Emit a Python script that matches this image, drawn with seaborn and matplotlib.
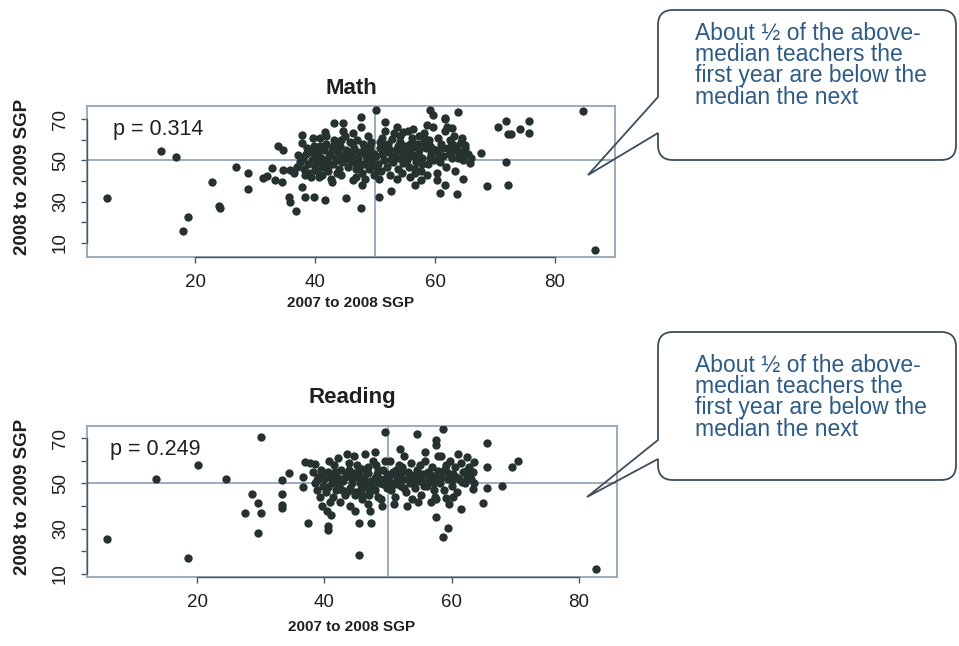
import matplotlib
matplotlib.use("Agg")
import matplotlib.pyplot as plt
from matplotlib.path import Path
from matplotlib.patches import PathPatch
from matplotlib.transforms import Affine2D
import seaborn as sns
import pandas as pd

# ---------------- data ----------------
math_points = [
    # sparse low end
    (5.3, 31.8), (14.3, 54.5), (16.8, 51.6), (18.0, 16.0), (18.8, 22.7),
    (22.8, 39.6), (24.0, 28.0), (24.2, 27.0), (26.8, 46.8), (28.8, 43.9),
    (28.8, 36.2), (31.3, 41.5), (32.0, 42.5), (32.8, 46.3), (33.3, 40.5),
    (33.8, 57.0), (34.7, 55.0), (34.5, 39.6), (34.7, 45.4), (35.8, 45.4),
    (35.7, 32.3), (35.8, 29.9), (36.8, 25.6), (37.8, 62.3), (37.8, 58.4),
    (37.8, 37.2), (38.3, 32.3), (39.8, 32.3), (40.7, 42.0), (41.7, 30.9),
    (42.8, 39.6), (45.2, 31.8), (43.2, 68.0), (44.7, 68.0), (39.7, 60.8),
    (40.8, 60.8), (41.7, 63.7),
    # upper / right part of the cloud
    (50.2, 74.3), (47.7, 71.0), (51.7, 68.6), (53.7, 66.0), (54.7, 63.7),
    (56.3, 65.0), (59.2, 74.3), (59.7, 72.0), (61.7, 70.5), (58.7, 67.0),
    (47.7, 27.0), (50.7, 32.3), (52.7, 35.2), (55.8, 42.0), (56.7, 45.8),
    (56.7, 38.0), (57.7, 40.5), (60.3, 40.5), (60.8, 34.0), (47.8, 38.0),
    (46.3, 40.5), (63.8, 73.4), (61.7, 70.0), (62.8, 65.6), (65.0, 57.4),
    (67.7, 53.6), (71.8, 49.2), (68.7, 37.6), (72.2, 38.0), (70.5, 66.0),
    (71.8, 69.0), (72.2, 62.8), (72.6, 62.6), (74.2, 65.0), (75.7, 69.0),
    (75.7, 63.2), (61.7, 38.0), (63.7, 33.8), (64.7, 41.0), (65.8, 48.7),
    (84.7, 73.9), (86.7, 6.7),
    # dense centre
    (36.5, 44), (37.0, 47), (37.5, 49), (38.0, 51), (38.2, 46), (38.5, 53),
    (38.8, 48), (39.0, 55), (39.2, 44), (39.5, 50), (39.8, 57), (40.0, 47),
    (40.2, 52), (40.5, 54), (40.7, 49), (39.3, 42), (37.8, 50.5), (38.6, 56),
    (40.3, 45), (41.0, 51), (41.3, 47), (41.5, 55), (41.8, 58), (42.0, 50),
    (42.2, 45), (42.5, 53), (42.8, 56), (43.0, 48), (43.2, 60), (43.5, 51),
    (43.8, 54), (44.0, 46), (44.2, 57), (44.5, 49), (44.8, 52), (45.0, 62),
    (45.2, 55), (45.5, 47), (45.8, 59), (41.2, 43), (42.6, 41), (43.6, 44),
    (44.6, 64), (45.3, 50.5), (41.9, 62), (42.3, 52), (43.1, 57.5), (44.3, 43),
    (46.0, 53), (46.2, 49), (46.5, 56), (46.8, 46), (47.0, 60), (47.2, 51),
    (47.5, 54), (47.8, 44), (48.0, 58), (48.2, 48), (48.5, 52), (48.8, 62),
    (49.0, 46), (49.2, 55), (49.5, 50), (49.8, 43), (46.4, 63), (47.6, 66),
    (48.4, 41), (49.4, 59), (46.9, 42), (48.9, 53.5), (47.1, 48.5), (45.9, 51),
    (49.7, 47.5), (50.2, 52), (50.5, 48), (50.8, 56), (51.0, 45), (51.2, 61),
    (51.5, 50), (51.8, 54), (52.0, 47), (52.2, 58), (52.5, 43), (52.8, 52),
    (53.0, 49), (53.2, 63), (53.5, 55), (53.8, 46), (54.0, 51), (54.2, 59),
    (54.5, 44), (54.8, 53), (55.0, 57), (50.6, 41), (51.6, 64), (52.4, 55.5),
    (53.6, 41), (54.6, 48.5), (50.9, 59), (52.9, 60.5), (54.1, 62),
    (55.3, 50), (55.6, 47), (55.9, 54), (56.2, 61), (56.5, 52), (56.8, 49),
    (57.0, 58), (57.3, 55), (57.6, 45), (57.9, 51), (58.2, 63), (58.5, 56),
    (58.8, 48), (59.0, 60), (59.3, 53), (59.6, 66), (59.9, 50), (55.5, 64),
    (56.7, 44), (58.0, 58.5), (59.2, 57), (57.4, 62), (58.7, 43), (56.0, 52.5),
    (60.2, 55), (60.5, 61), (60.8, 49), (61.0, 58), (61.3, 52), (61.6, 64),
    (61.9, 47), (62.2, 56), (62.5, 60), (62.8, 51), (63.1, 62), (63.4, 45),
    (63.7, 57), (64.0, 54), (64.3, 59), (64.7, 50), (65.0, 56), (65.5, 53),
    (66.0, 51), (60.4, 44), (62.0, 66), (63.0, 54.5), (64.5, 61),
    (37.2, 52.5), (38.4, 43), (39.6, 53.5), (40.9, 57), (41.6, 49.5),
    (42.4, 47.5), (43.3, 55.5), (43.9, 50), (44.4, 60), (45.6, 53),
    (46.1, 58.5), (46.7, 51), (47.4, 47), (48.1, 55), (48.7, 49.5),
    (49.1, 57), (49.9, 53), (50.4, 45), (51.1, 53), (51.9, 57.5),
    (52.6, 50), (53.3, 52.5), (53.9, 57), (54.4, 55), (55.2, 53),
    (55.8, 58), (56.4, 56.5), (57.1, 53), (57.8, 48), (58.4, 60.5),
    (59.1, 51), (59.7, 55.5), (60.6, 52.5), (61.4, 56), (62.3, 53),
    (62.9, 58), (63.9, 51), (64.9, 53), (44.0, 52.5), (46.3, 54.5),
]

reading_points = [
    # sparse low end
    (5.8, 25.5), (13.5, 52.0), (18.5, 17.1), (20.1, 58.1), (24.6, 52.0),
    (30.0, 70.4), (28.6, 45.3), (27.6, 37.0), (29.5, 41.4), (30.1, 37.0),
    (29.5, 28.2), (33.4, 51.5), (33.4, 45.3), (33.4, 40.5), (33.4, 39.0),
    (34.5, 54.6), (36.6, 52.8), (36.6, 48.4), (36.9, 59.4), (37.7, 59.0),
    (38.5, 58.5), (37.4, 32.6), (40.5, 31.2), (40.5, 29.5), (45.5, 18.5),
    # upper / right part of the cloud
    (49.5, 72.6), (54.5, 71.8), (58.6, 74.0), (57.5, 69.0), (57.5, 67.0),
    (45.5, 32.6), (47.4, 32.6), (57.5, 35.2), (59.5, 30.4), (58.6, 26.4),
    (57.6, 43.1), (59.2, 43.6), (65.6, 67.8), (65.6, 57.2), (63.4, 47.5),
    (65.6, 48.0), (68.0, 48.9), (69.5, 57.2), (70.5, 59.9), (65.0, 41.4),
    (61.5, 38.7), (62.5, 61.6), (63.6, 59.4), (82.7, 12.3),
    # dense centre
    (38.5, 50), (38.8, 47), (39.0, 53), (39.3, 44), (39.5, 56), (39.8, 49),
    (40.0, 52), (40.3, 46), (40.6, 55), (40.9, 42), (41.2, 50), (41.5, 58),
    (41.8, 47), (42.0, 53), (38.2, 55), (39.6, 40), (40.8, 60), (41.4, 44),
    (41.0, 36), (40.4, 38), (42.3, 49), (42.6, 56), (42.9, 51), (43.2, 45),
    (43.5, 54), (43.8, 59), (44.1, 48), (44.4, 52), (44.7, 62), (45.0, 46),
    (45.3, 55), (45.6, 50), (45.9, 43), (42.5, 42), (43.6, 63), (44.0, 40),
    (45.2, 58), (43.0, 52), (44.6, 54.5), (45.8, 47.5), (42.1, 61), (44.9, 38),
    (46.2, 53), (46.5, 49), (46.8, 57), (47.1, 45), (47.4, 51), (47.7, 60),
    (48.0, 47), (48.3, 54), (48.6, 50), (48.9, 43), (49.2, 56), (49.5, 52),
    (49.8, 48), (46.4, 63), (47.9, 64), (49.0, 40), (46.9, 41), (48.1, 58),
    (49.6, 60), (47.2, 38), (46.0, 45), (48.5, 44), (50.2, 51), (50.5, 47),
    (50.8, 55), (51.1, 44), (51.4, 53), (51.7, 58), (52.0, 49), (52.3, 52),
    (52.6, 62), (52.9, 46), (53.2, 55), (53.5, 50), (53.8, 43), (50.4, 60),
    (51.9, 65), (53.0, 40), (50.9, 41), (52.2, 57), (53.7, 59), (54.0, 53),
    (51.3, 49.5), (54.3, 48), (54.6, 56), (54.9, 51), (55.2, 45), (55.5, 54),
    (55.8, 60), (56.1, 49), (56.4, 52), (56.7, 42), (57.0, 57), (57.3, 47),
    (57.6, 53), (57.9, 62), (54.8, 42), (55.9, 64), (56.9, 51), (57.4, 44),
    (55.1, 58), (58.2, 50), (58.5, 55), (58.8, 47), (59.1, 58), (59.4, 52),
    (59.7, 60), (60.0, 49), (60.3, 54), (60.6, 57), (60.9, 46), (61.2, 52),
    (61.5, 59), (61.8, 55), (62.1, 50), (62.4, 53), (62.7, 57), (63.0, 52),
    (63.3, 55), (63.6, 50), (58.3, 62), (60.2, 44), (61.0, 63), (59.6, 41),
    (38.9, 51.5), (39.9, 54.5), (40.5, 48.5), (41.1, 52.5), (41.7, 55),
    (42.2, 50.5), (42.8, 47), (43.3, 53), (43.9, 56), (44.3, 50),
    (44.8, 45), (45.4, 52.5), (45.9, 56.5), (46.3, 51), (46.9, 54.5),
    (47.5, 49), (47.9, 52.5), (48.4, 56), (48.8, 52), (49.3, 49.5),
    (49.9, 54), (50.3, 53.5), (50.7, 50), (51.2, 56), (51.6, 51.5),
    (52.1, 54.5), (52.5, 48), (53.1, 52), (53.6, 53.5), (54.2, 50.5),
    (54.7, 53.5), (55.3, 51), (55.7, 49), (56.3, 55), (56.8, 53.5),
    (57.2, 50), (57.8, 55.5), (58.4, 52.5), (58.9, 56.5), (59.5, 54.5),
    (60.1, 51.5), (60.7, 53), (61.6, 50.5), (62.3, 55.5), (43.7, 46.5),
    (47.0, 46.5),
]

panel_titles = ["Math", "Reading"]
p_labels = ["p = 0.314", "p = 0.249"]
medians = [50, 50]
x_ticks = [20, 40, 60, 80]
y_ticks = [10, 20, 30, 40, 50, 60, 70]
y_tick_labels = ["10", "", "30", "", "50", "", "70"]
x_label = "2007 to 2008 SGP"
y_label = "2008 to 2009 SGP"
callout_text = ("About \u00bd of the above-\nmedian teachers the\n"
                "first year are below the\nmedian the next")

# ---------------- style ----------------
sns.set_style("white")
plt.rcParams["font.family"] = ["Liberation Sans", "DejaVu Sans"]

W, H = 959, 646
fig = plt.figure(figsize=(W / 100, H / 100), dpi=100)
px = Affine2D().scale(1 / W, -1 / H).translate(0, 1) + fig.transFigure

dot_color = "#253230"
frame_color = "#93a7b8"
axis_color = "#4b5560"
text_color = "#1f1f1f"

# axes rectangles in pixels: left, top, right, bottom
panels = [
    dict(rect=(87, 106, 615, 257), xlim=(2.0, 90.0), ylim=(3.2, 76.3),
         title_y=88, xlabel_y=303),
    dict(rect=(87, 426, 617, 577), xlim=(2.7, 86.0), ylim=(8.7, 75.3),
         title_y=397, xlabel_y=627),
]
datasets = [math_points, reading_points]

for i, (pan, pts) in enumerate(zip(panels, datasets)):
    l, t, r, b = pan["rect"]
    ax = fig.add_axes([l / W, 1 - b / H, (r - l) / W, (b - t) / H])
    df = pd.DataFrame(pts, columns=["prev", "next"])
    sns.scatterplot(data=df, x="prev", y="next", ax=ax, color=dot_color,
                    s=36, linewidth=0, zorder=3)
    ax.set_xlim(*pan["xlim"])
    ax.set_ylim(*pan["ylim"])
    ax.axhline(medians[i], color=frame_color, lw=1.3, zorder=2)
    ax.axvline(medians[i], color=frame_color, lw=1.3, zorder=2)
    for sp in ax.spines.values():
        sp.set_visible(True)
        sp.set_color(frame_color)
        sp.set_linewidth(1.3)
    # R-style axis lines spanning the tick range
    ax.plot([x_ticks[0], x_ticks[-1]], [pan["ylim"][0]] * 2, color=axis_color,
            lw=1.0, clip_on=False, zorder=4)
    ax.plot([pan["xlim"][0]] * 2, [y_ticks[0], y_ticks[-1]], color=axis_color,
            lw=1.0, clip_on=False, zorder=4)
    ax.set_xticks(x_ticks)
    ax.set_yticks(y_ticks)
    ax.set_yticklabels(y_tick_labels)
    ax.tick_params(axis="both", which="major", direction="out", length=4,
                   width=1.0, color=axis_color, labelsize=13.5,
                   labelcolor=text_color, bottom=True, left=True)
    ax.tick_params(axis="x", pad=8)
    ax.tick_params(axis="y", pad=9)
    for lab in ax.get_yticklabels():
        lab.set_rotation(90)
        lab.set_va("center")
    ax.set_xlabel("")
    ax.set_ylabel("")
    ax.text(6.3, 65, p_labels[i], fontsize=15.5, color=text_color,
            ha="left", va="center", zorder=5)

    cx = (l + r) / 2
    fig.text(cx / W, 1 - pan["title_y"] / H, panel_titles[i], fontsize=16,
             fontweight="bold", ha="center", va="center", color=text_color)
    fig.text(cx / W, 1 - pan["xlabel_y"] / H, x_label, fontsize=11,
             fontweight="bold", ha="center", va="center", color=text_color)
    fig.text(23 / W, 1 - ((t + b) / 2 - 5) / H, y_label, fontsize=13.5,
             fontweight="bold", ha="center", va="center", rotation=90,
             color=text_color)


def callout(x0, y0, x1, y1, ta, tb, tip, rad=15):
    verts = [
        (x0, ta), (x0, y0 + rad), (x0, y0), (x0 + rad, y0),
        (x1 - rad, y0), (x1, y0), (x1, y0 + rad),
        (x1, y1 - rad), (x1, y1), (x1 - rad, y1),
        (x0 + rad, y1), (x0, y1), (x0, y1 - rad),
        (x0, tb), tip, (x0, ta),
    ]
    codes = [Path.MOVETO, Path.LINETO, Path.CURVE3, Path.CURVE3,
             Path.LINETO, Path.CURVE3, Path.CURVE3,
             Path.LINETO, Path.CURVE3, Path.CURVE3,
             Path.LINETO, Path.CURVE3, Path.CURVE3,
             Path.LINETO, Path.LINETO, Path.CLOSEPOLY]
    patch = PathPatch(Path(verts, codes), transform=px, facecolor="none",
                      edgecolor="#3c4d5c", lw=1.3, zorder=10)
    fig.add_artist(patch)


callout(658, 10, 956, 160, 97, 133, (588, 175))
callout(658, 332, 956, 480, 440, 459, (587, 497))
for ty in (22, 354):
    fig.text(695 / W, 1 - ty / H, callout_text, fontsize=16.5,
             color="#2d5b86", ha="left", va="top", linespacing=0.9)

fig.savefig("out.png", dpi=100)
